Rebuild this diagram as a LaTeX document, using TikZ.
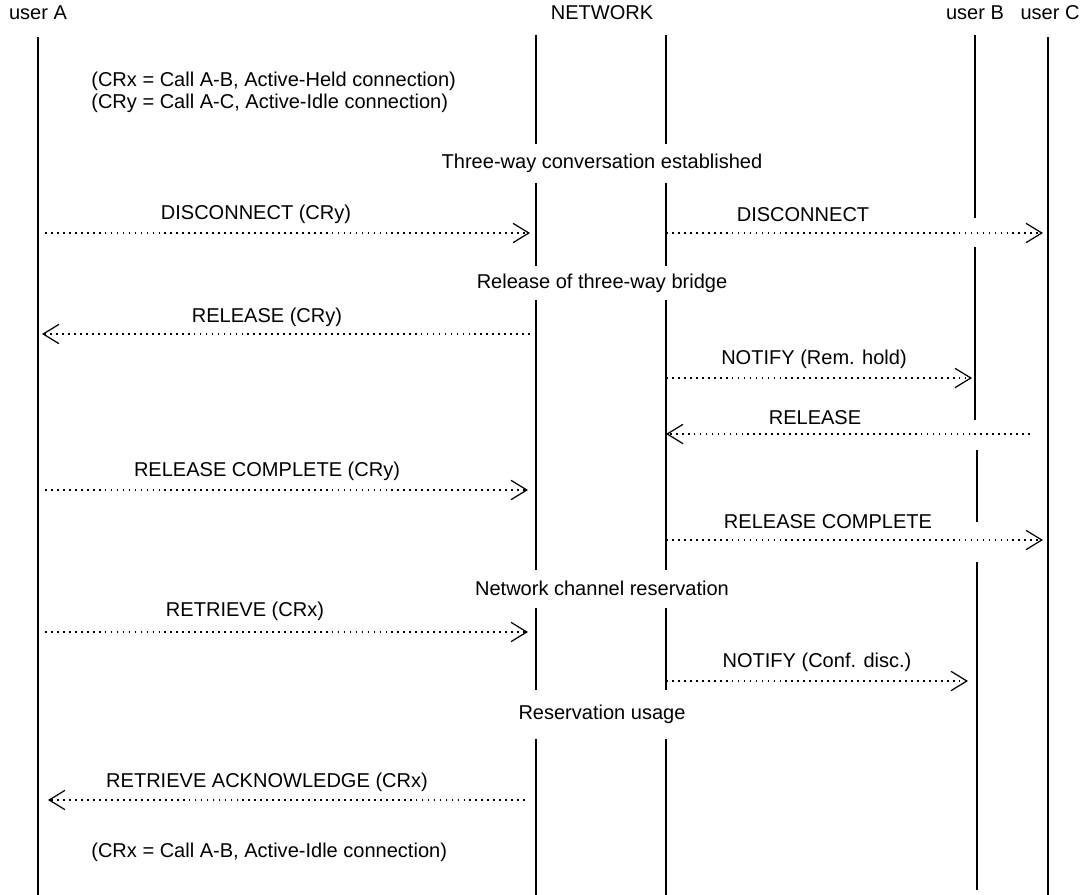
\documentclass[tikz,border=0pt]{standalone}
\usepackage{fontspec}
\setmainfont{Liberation Sans}
\usetikzlibrary{arrows.meta}

\tikzset{
    life/.style={line width=0.8pt},
    msg/.style={line width=1pt, dash pattern=on 1pt off 2.4pt,
        -{Straight Barb[length=9pt, width=11pt, line width=0.7pt]}},
    lbl/.style={inner sep=0pt, font=\fontsize{11.4}{13}\selectfont}
}

\begin{document}
\begin{tikzpicture}[x=0.02cm, y=-0.02cm]
                        \useasboundingbox (0, 0) rectangle (1085, 895);
                        % heads
                        \node[lbl] (userA) at (38, 13) {user A};
                        \node[lbl] (net) at (602, 13) {NETWORK};
                        \node[lbl] (userB) at (975, 13) {user B};
                        \node[lbl] (userC) at (1050, 13) {user C};
                        % lifelines
                        \draw[life]
                        (38, 37) -- (38, 895)
                        (1048, 37) -- (1048, 895)
                        (536, 35) -- (536, 144)
                        (536, 183) -- (536, 266)
                        (536, 300) -- (536, 570)
                        (536, 608) -- (536, 690)
                        (536, 739) -- (536, 895)
                        (666, 35) -- (666, 144)
                        (666, 183) -- (666, 266)
                        (666, 300) -- (666, 570)
                        (666, 608) -- (666, 690)
                        (666, 739) -- (666, 895)
                        (975, 35) -- (975, 218)
                        (975, 247) -- (975, 420)
                        (977, 450) -- (977, 522)
                        (977, 562) -- (977, 890);
                        % notes
                        \node[lbl, anchor=west] (crx) at (91, 81) {(CRx = Call A-B, Active-Held connection)};
                        \node[lbl, anchor=west] (cry) at (91, 103) {(CRy = Call A-C, Active-Idle connection)};
                        \node[lbl] (three) at (602, 163) {Three-way conversation established};
                        \node[lbl] (bridge) at (602, 283) {Release of three-way bridge};
                        \node[lbl] (resv) at (602, 588) {Network channel reservation};
                        \node[lbl] (usage) at (602, 714) {Reservation usage};
                        \node[lbl, anchor=west] (crxidle) at (91, 852) {(CRx = Call A-B, Active-Idle connection)};
                        % message ends
                        \coordinate (a1) at (45, 233);
                        \coordinate (n1) at (530, 233);
                        \coordinate (n2) at (666, 233);
                        \coordinate (c2) at (1043, 233);
                        \coordinate (n3) at (530, 334);
                        \coordinate (a3) at (42, 334);
                        \coordinate (n4) at (666, 378);
                        \coordinate (b4) at (972, 378);
                        \coordinate (c5) at (1030, 434);
                        \coordinate (n5) at (666, 434);
                        \coordinate (a6) at (45, 490);
                        \coordinate (n6) at (528, 490);
                        \coordinate (n7) at (666, 540);
                        \coordinate (c7) at (1043, 540);
                        \coordinate (a8) at (45, 632);
                        \coordinate (n8) at (528, 632);
                        \coordinate (n9) at (666, 681);
                        \coordinate (b9) at (968, 681);
                        \coordinate (n10) at (525, 800);
                        \coordinate (a10) at (48, 800);
                        % messages
                        \draw[msg] (a1) -- (n1);
                        \draw[msg] (n2) -- (c2);
                        \draw[msg] (n3) -- (a3);
                        \draw[msg] (n4) -- (b4);
                        \draw[msg] (c5) -- (n5);
                        \draw[msg] (a6) -- (n6);
                        \draw[msg] (n7) -- (c7);
                        \draw[msg] (a8) -- (n8);
                        \draw[msg] (n9) -- (b9);
                        \draw[msg] (n10) -- (a10);
                        \node[lbl] (disc) at (256, 214) {DISCONNECT (CRy)};
                        \node[lbl] (discC) at (803, 215) {DISCONNECT};
                        \node[lbl] (rel) at (267, 317) {RELEASE (CRy)};
                        \node[lbl] (notB) at (814, 359) {NOTIFY (Rem. hold)};
                        \node[lbl] (relC) at (815, 418) {RELEASE};
                        \node[lbl] (relcomp) at (267, 471) {RELEASE COMPLETE (CRy)};
                        \node[lbl] (relcompC) at (828, 522) {RELEASE COMPLETE};
                        \node[lbl] (retr) at (245, 611) {RETRIEVE (CRx)};
                        \node[lbl] (notB2) at (817, 662) {NOTIFY (Conf. disc.)};
                        \node[lbl] (ack) at (267, 782) {RETRIEVE ACKNOWLEDGE (CRx)};
                    \end{tikzpicture}
\end{document}
